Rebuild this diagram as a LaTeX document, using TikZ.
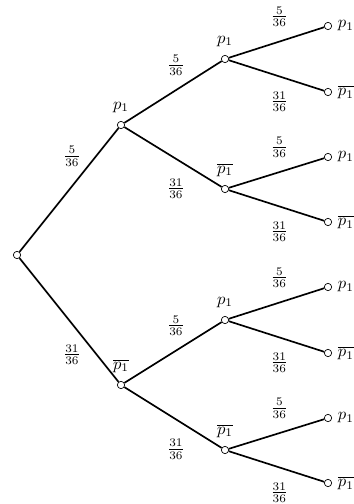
\documentclass[tikz,border=0pt]{standalone}
\usepackage{amsmath,amssymb}
\usepackage{tikz}
\usetikzlibrary{positioning}

\begin{document}
\begin{tikzpicture}[
  x=0.6pt, y=-0.6pt,
  state/.style={draw, circle, fill=white, line width=0.4pt,
                minimum size=4.4pt, inner sep=0pt},
  inner/.style={state, label={[label distance=1.5pt]above:#1}},
  leaf/.style={state, label={[label distance=0pt]right:#1}},
  branch/.style={line width=1pt},
  upprob/.style={pos=0.53, yshift=#1},
  downprob/.style={pos=0.53, yshift=-#1}
]
\useasboundingbox (0,0) rectangle (353,504);

% root and first throw
\node[state] (s) at (17,255) {};
\node[inner=$p_1$] (a) at (121,125) {};
\node[inner=$\overline{p_1}$] (b) at (121,385) {};

% second throw
\node[inner=$p_1$] (aa) at (225,59)  {};
\node[inner=$\overline{p_1}$] (ab) at (225,189) {};
\node[inner=$p_1$] (ba) at (225,320) {};
\node[inner=$\overline{p_1}$] (bb) at (225,450) {};

% third throw
\node[leaf=$p_1$] (aaa) at (328,26)  {};
\node[leaf=$\overline{p_1}$] (aab) at (328,92)  {};
\node[leaf=$p_1$] (aba) at (328,157) {};
\node[leaf=$\overline{p_1}$] (abb) at (328,222) {};
\node[leaf=$p_1$] (baa) at (328,287) {};
\node[leaf=$\overline{p_1}$] (bab) at (328,353) {};
\node[leaf=$p_1$] (bba) at (328,418) {};
\node[leaf=$\overline{p_1}$] (bbb) at (328,483) {};

\draw[branch] (s) -- node[upprob=18pt] {$\frac{5}{36}$} (a);
\draw[branch] (s) -- node[downprob=18.5pt] {$\frac{31}{36}$} (b);

\draw[branch] (a) -- node[upprob=15pt] {$\frac{5}{36}$} (aa);
\draw[branch] (a) -- node[downprob=18pt] {$\frac{31}{36}$} (ab);
\draw[branch] (b) -- node[upprob=15pt] {$\frac{5}{36}$} (ba);
\draw[branch] (b) -- node[downprob=18pt] {$\frac{31}{36}$} (bb);

\draw[branch] (aa) -- node[upprob=15pt] {$\frac{5}{36}$} (aaa);
\draw[branch] (aa) -- node[downprob=15pt] {$\frac{31}{36}$} (aab);
\draw[branch] (ab) -- node[upprob=15pt] {$\frac{5}{36}$} (aba);
\draw[branch] (ab) -- node[downprob=15pt] {$\frac{31}{36}$} (abb);
\draw[branch] (ba) -- node[upprob=15pt] {$\frac{5}{36}$} (baa);
\draw[branch] (ba) -- node[downprob=15pt] {$\frac{31}{36}$} (bab);
\draw[branch] (bb) -- node[upprob=15pt] {$\frac{5}{36}$} (bba);
\draw[branch] (bb) -- node[downprob=15pt] {$\frac{31}{36}$} (bbb);
\end{tikzpicture}
\end{document}
